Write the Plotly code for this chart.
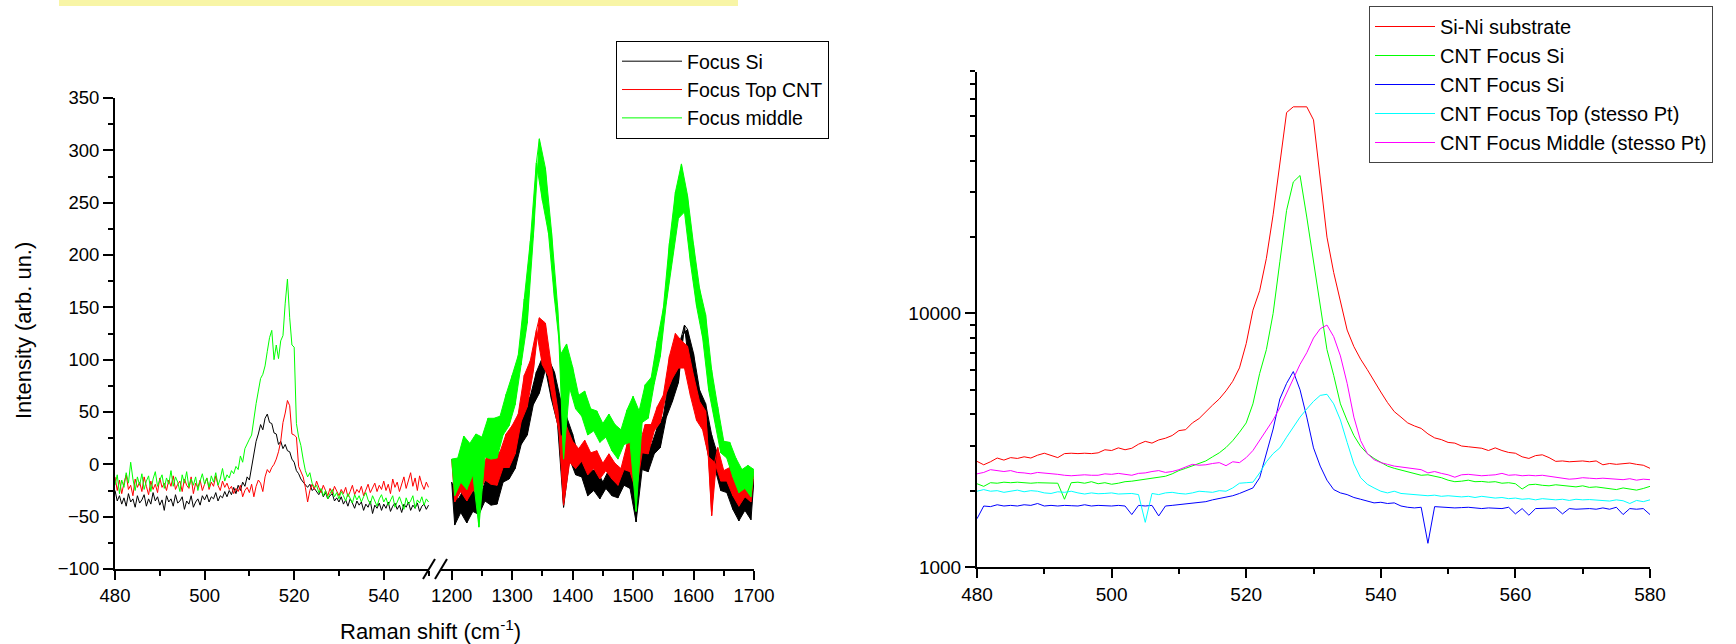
import plotly.graph_objects as go

W, H = 1736, 644

# ---------------- Left panel data ----------------
# segment 1: 480 .. 550 cm-1, step 0.5
seg1_x = [480 + 0.5 * i for i in range(141)]
focus_si_seg1 = [
    -25, -35, -30, -38, -32, -40, -28, -36, -33, -41,
    -30, -37, -34, -29, -40, -33, -38, -27, -35, -31,
    -39, -34, -44, -30, -36, -33, -40, -29, -37, -35,
    -31, -43, -35, -38, -30, -41, -36, -33, -39, -30,
    -34, -29, -36, -31, -33, -27, -35, -30, -32, -26,
    -31, -25, -29, -22, -28, -20, -25, -17, -21, -12,
    -15, -3, 10, 22, 29, 38, 33, 44, 48, 40,
    39, 30, 29, 19, 22, 15, 19, 13, 12, 5,
    2, -6, -9, -14, -17, -20, -22, -19, -25, -23,
    -26, -29, -24, -31, -27, -33, -30, -28, -35, -32,
    -36, -31, -38, -34, -40, -33, -37, -42, -35, -39,
    -36, -44, -38, -41, -35, -47, -39, -42, -37, -44,
    -38, -42, -36, -45, -40, -37, -43, -39, -46, -38,
    -41, -36, -44, -39, -42, -37, -45, -40, -38, -43,
    -39]
focus_top_seg1 = [
    -12, -25, -15, -28, -18, -10, -24, -20, -30, -14,
    -22, -17, -26, -12, -21, -29, -16, -24, -19, -27,
    -13, -22, -18, -25, -15, -21, -11, -24, -19, -16,
    -26, -14, -20, -23, -12, -28, -18, -22, -15, -25,
    -19, -13, -24, -17, -21, -11, -20, -25, -16, -22,
    -18, -24, -21, -28, -23, -26, -20, -31, -25, -22,
    -27, -19, -31, -21, -15, -18, -26, -12, -5, -8,
    -3, 0, 5, 12, 22, 40, 49, 61, 56, 29,
    28, 26, -2, -8, -12, -22, -36, -25, -19, -24,
    -16, -22, -27, -20, -25, -30, -23, -28, -21, -26,
    -30, -24, -28, -22, -31, -26, -20, -29, -24, -27,
    -21, -30, -25, -19, -27, -23, -18, -26, -20, -24,
    -16, -25, -19, -28, -14, -22, -17, -26, -20, -12,
    -23, -15, -8, -21, -13, -25, -11, -19, -24, -17,
    -22]
focus_mid_seg1 = [
    -20, -10, -28, -15, -22, -8, -18, 2, -14, -25,
    -12, -20, -9, -24, -16, -11, -26, -14, -7, -21,
    -15, -10, -23, -13, -19, -6, -21, -12, -17, -26,
    -10, -18, -7, -22, -14, -20, -12, -25, -16, -9,
    -19, -13, -22, -11, -17, -8, -20, -14, -4, -16,
    -10, -13, -6, -9, -2, -5, 8, 2, 15, 20,
    24, 28, 45, 58, 70, 82, 86, 94, 108, 121,
    128, 100, 114, 101, 118, 123, 154, 177, 140, 114,
    112, 39, 26, 18, 5, -6, -12, -8, -18, -22,
    -20, -27, -23, -30, -25, -33, -28, -24, -31, -27,
    -33, -26, -30, -35, -28, -32, -37, -29, -34, -30,
    -36, -31, -27, -34, -38, -30, -35, -40, -33, -29,
    -36, -32, -39, -34, -30, -41, -35, -31, -37, -43,
    -32, -38, -35, -30, -42, -34, -37, -31, -39, -33,
    -36]

# segment 2: 1200 .. 1700 cm-1, step 5; values alternate between the upper
# edge (1200, 1210, ...) and the lower edge (1205, 1215, ...) of the noisy band
seg2_x = [1200 + 5 * i for i in range(101)]
focus_si_seg2 = [
    -17, -58, -34, -46, -24, -56, -31, -45, -21, -48,
    -26, -35, -8, -39, -8, -38, -1, -17, 17, -14,
    23, -4, 28, 19, 56, 28, 65, 57, 88, 68,
    102, 91, 101, 62, 88, 39, 62, -41, 46, 5,
    29, -10, 7, -12, 8, -30, -6, -25, -5, -33,
    -17, -23, -5, -30, -8, -32, -8, -20, 5, -23,
    14, -55, 5, -5, 22, -7, 18, 10, 35, 16,
    46, 45, 84, 60, 100, 78, 122, 133, 129, 81,
    106, 55, 71, 38, 58, 7, 28, -3, 9, -25,
    -14, -27, -12, -43, -23, -54, -29, -44, -19, -53,
    -14]
focus_top_seg2 = [
    5, -36, -12, -26, -2, -35, -10, -25, -2, -28,
    -6, -15, 11, -19, 9, -20, 12, -3, 29, -3,
    37, 10, 48, 41, 85, 55, 99, 89, 128, 140,
    95, 135, 84, 93, 52, 54, 25, -39, 36, 2,
    22, -4, 15, 3, 23, -10, 11, -4, 13, -14,
    1, -6, 10, -14, 1, -20, -4, -5, 19, -7,
    27, -26, 18, 11, 38, 10, 38, 32, 55, 40,
    66, 68, 103, 82, 125, 92, 118, 92, 113, 65,
    85, 42, 60, 33, 51, 7, -49, 2, 16, -16,
    -6, -16, -3, -30, -13, -40, -18, -31, -8, -36,
    -7]
focus_mid_seg2 = [
    5, -30, 6, -17, 27, -24, 20, -10, 29, -60,
    26, 7, 44, 5, 44, 6, 46, 28, 67, 37,
    85, 57, 104, 95, 158, 135, 213, 217, 288, 311,
    252, 283, 221, 223, 158, 152, 105, 5, 115, 73,
    93, 53, 66, 46, 70, 28, 53, 32, 51, 21,
    39, 26, 48, 13, 38, 5, 33, 19, 52, 21,
    65, -45, 51, 40, 76, 44, 83, 77, 118, 103,
    149, 154, 211, 197, 260, 235, 287, 241, 257, 192,
    210, 151, 168, 121, 143, 71, 90, 42, 55, 11,
    22, 6, 21, -12, 6, -27, -5, -23, -1, -31,
    -5]

left_names = ["Focus Si", "Focus Top CNT", "Focus middle"]
left_colors = ["#000000", "#FF0000", "#00FF00"]
left_seg1 = [focus_si_seg1, focus_top_seg1, focus_mid_seg1]
left_seg2 = [focus_si_seg2, focus_top_seg2, focus_mid_seg2]

# ---------------- Right panel data ----------------
right_x = [480 + i for i in range(101)]
si_ni_substrate = [
    2610, 2530, 2600, 2690, 2640, 2700, 2680, 2720, 2690, 2760,
    2810, 2760, 2700, 2800, 2810, 2800, 2810, 2800, 2820, 2900,
    2880, 2950, 2900, 2940, 3050, 3130, 3080, 3170, 3220, 3300,
    3450, 3480, 3700, 3850, 4100, 4350, 4600, 4950, 5400, 6100,
    7600, 10300, 12300, 16500, 24500, 40000, 62000, 65300, 65300, 65300,
    58000, 33000, 20000, 14500, 11000, 8600, 7400, 6600, 6000, 5400,
    4900, 4450, 4100, 3900, 3700, 3600, 3520, 3350, 3230, 3180,
    3100, 3080, 3000, 2980, 2950, 2940, 2880, 2950, 2880, 2830,
    2810, 2720, 2680, 2750, 2770, 2700, 2610, 2620, 2600, 2610,
    2620, 2600, 2620, 2530, 2560, 2540, 2550, 2570, 2540, 2520,
    2450]
cnt_focus_si_a = [
    2130, 2080, 2150, 2140, 2160, 2150, 2160, 2150, 2140, 2150,
    2145, 2150, 2140, 1850, 2150, 2160, 2140, 2170, 2130, 2150,
    2120, 2140, 2170, 2180, 2200, 2210, 2230, 2250, 2280, 2330,
    2400, 2450, 2500, 2560, 2620, 2720, 2820, 2960, 3150, 3400,
    3700, 4400, 5800, 7200, 10000, 16000, 25500, 33000, 35000, 24000,
    16000, 11000, 7200, 5700, 4400, 3780, 3300, 2990, 2800, 2680,
    2580, 2500, 2450, 2410, 2370, 2345, 2300, 2310, 2280, 2250,
    2200, 2170, 2180, 2200, 2170, 2175, 2160, 2170, 2140, 2150,
    2130, 2030, 2110, 2120, 2100, 2090, 2110, 2100, 2080, 2070,
    2090, 2060, 2070, 2050, 2040, 2020, 2050, 2030, 2010, 2040,
    2080]
cnt_focus_si_b = [
    1550, 1740, 1730, 1760, 1740, 1750, 1740, 1760, 1750, 1780,
    1740, 1750, 1740, 1750, 1745, 1740, 1760, 1740, 1750, 1745,
    1740, 1750, 1740, 1610, 1750, 1740, 1750, 1590, 1740, 1750,
    1760, 1770, 1780, 1790, 1810, 1840, 1860, 1880, 1910, 1950,
    2000, 2050, 2250, 2800, 3500, 4600, 5300, 5900, 5000, 3900,
    2950, 2500, 2200, 2020, 1960, 1930, 1880, 1850, 1820, 1790,
    1800, 1780, 1790, 1740, 1720, 1710, 1720, 1240, 1730, 1720,
    1720, 1710, 1715, 1720, 1710, 1700, 1710, 1705, 1700, 1720,
    1620, 1700, 1600, 1700, 1705, 1700, 1710, 1620, 1700, 1690,
    1700, 1700, 1690, 1710, 1690, 1720, 1610, 1700, 1690, 1700,
    1610]
cnt_focus_top = [
    1990, 2020, 1990, 2000, 1970, 1990, 2010, 1980, 2000, 1990,
    1960, 1950, 1980, 1970, 1990, 1960, 1940, 1960, 1945, 1950,
    1960, 1940, 1950, 1950, 1930, 1500, 1950, 1930, 1960, 1970,
    1950, 1940, 1960, 1990, 1980, 1970, 2000, 1990, 2050, 2140,
    2150, 2160, 2350, 2600, 2800, 2950, 3250, 3550, 3900, 4200,
    4500, 4750, 4800, 4400, 3800, 3100, 2550, 2250, 2120, 2050,
    1990, 1960, 1990, 1950, 1940, 1930, 1920, 1910, 1920, 1900,
    1910, 1900, 1890, 1900, 1880, 1900, 1890, 1870, 1880, 1860,
    1870, 1850, 1860, 1840, 1860, 1850, 1840, 1850, 1830, 1850,
    1840, 1845, 1840, 1830, 1820, 1840, 1825, 1780, 1830, 1810,
    1840]
cnt_focus_middle = [
    2330, 2360, 2420, 2400, 2380, 2400, 2360, 2350, 2330, 2360,
    2350, 2340, 2320, 2300, 2290, 2300, 2310, 2300, 2300, 2330,
    2320, 2340, 2320, 2300, 2340, 2350, 2380, 2400, 2360, 2380,
    2420, 2480, 2540, 2520, 2530, 2560, 2580, 2510, 2600, 2580,
    2700, 2880, 3150, 3450, 3800, 4250, 4850, 5500, 6300, 7000,
    8000, 8700, 9000, 8100, 6800, 5300, 3900, 3150, 2800, 2650,
    2580, 2540, 2500, 2480, 2460, 2440, 2420, 2350, 2380, 2340,
    2310, 2260, 2310, 2320, 2300, 2290, 2300, 2310, 2340, 2300,
    2310, 2290, 2300, 2290, 2300, 2280, 2260, 2240, 2220, 2230,
    2250, 2240, 2230, 2240, 2230, 2220, 2210, 2230, 2200, 2220,
    2210]

right_names = ["Si-Ni substrate", "CNT Focus Si", "CNT Focus Si",
               "CNT Focus Top (stesso Pt)", "CNT Focus Middle (stesso Pt)"]
right_colors = ["#FF0000", "#00FF00", "#0000FF", "#00FFFF", "#FF00FF"]
right_series = [si_ni_substrate, cnt_focus_si_a, cnt_focus_si_b,
                cnt_focus_top, cnt_focus_middle]

# ---------------- Figure ----------------
FONT = "Arial, 'Liberation Sans', sans-serif"
fig = go.Figure()

for name, col, y1, y2 in zip(left_names, left_colors, left_seg1, left_seg2):
    fig.add_trace(go.Scatter(x=seg1_x, y=y1, mode="lines", name=name,
                             line=dict(color=col, width=1), legendgroup=name,
                             legend="legend", xaxis="x", yaxis="y"))
    # dense noise band: lower edge points, then upper edge points filled to it
    fig.add_trace(go.Scatter(x=seg2_x[1::2], y=y2[1::2], mode="lines", name=name,
                             line=dict(color=col, width=1), legendgroup=name,
                             showlegend=False, xaxis="x2", yaxis="y",
                             hoverinfo="skip"))
    fig.add_trace(go.Scatter(x=seg2_x[0::2], y=y2[0::2], mode="lines", name=name,
                             line=dict(color=col, width=1), legendgroup=name,
                             fill="tonexty", fillcolor=col,
                             showlegend=False, xaxis="x2", yaxis="y"))
    # the raw zig-zag trace on top for texture
    fig.add_trace(go.Scatter(x=seg2_x, y=y2, mode="lines", name=name,
                             line=dict(color=col, width=1), legendgroup=name,
                             showlegend=False, xaxis="x2", yaxis="y",
                             hoverinfo="skip"))

for name, col, ys in zip(right_names, right_colors, right_series):
    fig.add_trace(go.Scatter(x=right_x, y=ys, mode="lines", name=name,
                             line=dict(color=col, width=1),
                             legend="legend2", xaxis="x3", yaxis="y2"))

def px_x(p):
    return p / W

def px_y(p):
    return 1 - p / H

axis_common = dict(showline=True, linecolor="black", linewidth=2,
                   ticks="outside", tickcolor="black", tickwidth=2,
                   showgrid=False, zeroline=False, mirror=False,
                   automargin=False,
                   tickfont=dict(family=FONT, size=18.5, color="black"))
right_axis = {**axis_common, "tickfont": dict(family=FONT, size=19, color="black")}

fig.update_layout(
    width=W, height=H,
    margin=dict(l=0, r=0, t=0, b=0, autoexpand=False),
    paper_bgcolor="white", plot_bgcolor="white",
    font=dict(family=FONT, color="black"),
    xaxis=dict(domain=[px_x(115), px_x(429)], range=[480, 550.1], anchor="y",
               tick0=480, dtick=20, ticklen=9,
               minor=dict(dtick=10, tick0=480, ticks="outside", ticklen=5,
                          tickwidth=2, tickcolor="black"),
               **axis_common),
    xaxis2=dict(domain=[px_x(440), px_x(754)], range=[1180.65, 1700], anchor="y",
                tick0=1200, dtick=100, ticklen=9,
                minor=dict(dtick=50, tick0=1200, ticks="outside", ticklen=5,
                           tickwidth=2, tickcolor="black"),
                **axis_common),
    yaxis=dict(domain=[px_y(569), px_y(98)], range=[-100, 350], anchor="x",
               tick0=0, dtick=50, ticklen=10,
               minor=dict(dtick=25, tick0=0, ticks="outside", ticklen=5,
                          tickwidth=2, tickcolor="black"),
               **axis_common),
    xaxis3=dict(domain=[px_x(977), px_x(1650)], range=[480, 580], anchor="y2",
                tick0=480, dtick=20, ticklen=9,
                minor=dict(dtick=10, tick0=480, ticks="outside", ticklen=5,
                           tickwidth=2, tickcolor="black"),
                **right_axis),
    yaxis2=dict(domain=[px_y(567), px_y(71.5)], type="log",
                range=[3, 4.9542], anchor="x3",
                tickmode="array", tickvals=[1000, 10000], ticktext=["1000", "10000"],
                ticklen=10,
                minor=dict(tickmode="array",
                           tickvals=[2000, 3000, 4000, 5000, 6000, 7000, 8000, 9000,
                                     20000, 30000, 40000, 50000, 60000, 70000, 80000, 90000],
                           ticks="outside", ticklen=5, tickwidth=2, tickcolor="black"),
                **right_axis),
    legend=dict(x=px_x(616), y=px_y(41), xanchor="left", yanchor="top",
                bordercolor="black", borderwidth=1, bgcolor="white",
                font=dict(family=FONT, size=19.5, color="black"),
                itemwidth=60, tracegroupgap=0),
    legend2=dict(x=px_x(1369), y=px_y(6), xanchor="left", yanchor="top",
                 bordercolor="#444444", borderwidth=1, bgcolor="white",
                 font=dict(family=FONT, size=20, color="black"),
                 itemwidth=60, tracegroupgap=0),
    showlegend=True,
)

# axis titles
fig.add_annotation(text="Intensity (arb. un.)", xref="paper", yref="paper",
                   x=px_x(23), y=px_y(331), textangle=-90, showarrow=False,
                   xanchor="center", yanchor="middle",
                   font=dict(family=FONT, size=22, color="black"))
fig.add_annotation(text="Raman shift (cm<sup>-1</sup>)", xref="paper", yref="paper",
                   x=px_x(430), y=px_y(630), showarrow=False,
                   xanchor="center", yanchor="middle",
                   font=dict(family=FONT, size=22, color="black"))

# axis break marks "//"
for x0 in (423, 435):
    fig.add_shape(type="line", xref="paper", yref="paper",
                  x0=px_x(x0), y0=px_y(579), x1=px_x(x0 + 12), y1=px_y(559),
                  line=dict(color="black", width=2))

# yellow highlight band at the top
fig.add_shape(type="rect", xref="paper", yref="paper",
              x0=px_x(59), x1=px_x(738), y0=px_y(6), y1=1,
              fillcolor="#F8F5A6", line=dict(width=0), layer="below")

fig.write_html("out.html")
